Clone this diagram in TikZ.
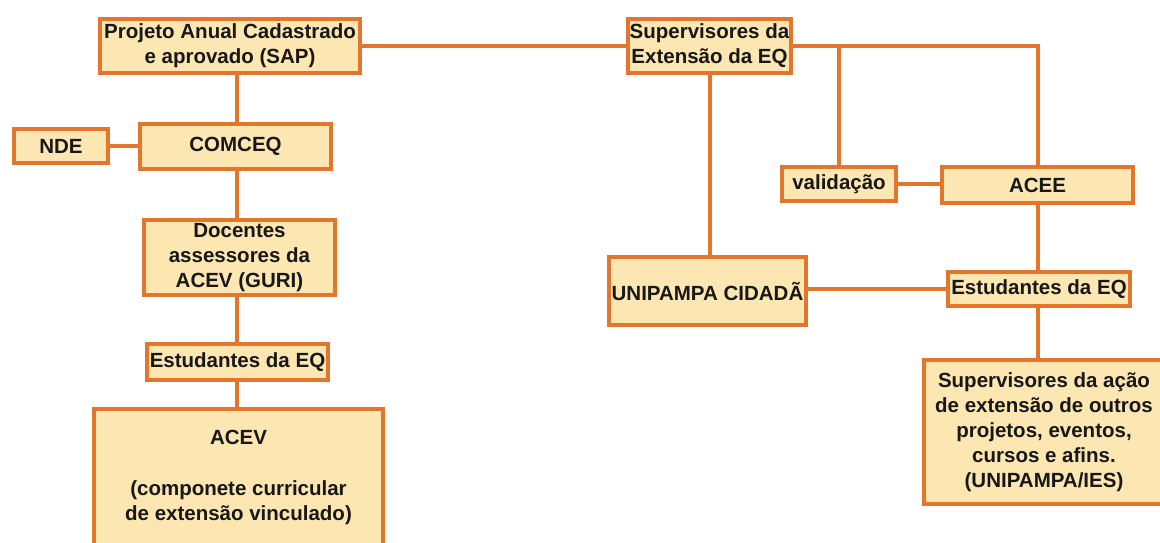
\documentclass[tikz,border=0pt]{standalone}
\usepackage{fontspec}
\setmainfont{Liberation Sans}
\definecolor{bord}{RGB}{226,118,45}
\definecolor{fillc}{RGB}{252,230,178}
\definecolor{txt}{RGB}{24,24,24}
\begin{document}
\begin{tikzpicture}[x=1pt,y=-1pt,
  box/.style={draw=bord, fill=fillc, line width=4pt, inner sep=0pt, text=txt,
    font=\bfseries\fontsize{20.5}{25}\selectfont, align=center},
  link/.style={draw=bord, line width=4pt}]
\useasboundingbox (0,0) rectangle (1160,543);
\fill[white] (0,0) rectangle (1160,543);
\clip (0,0) rectangle (1160,543);
\coordinate (colL) at (237,0);
\coordinate (colR) at (1038,0);
% nodes
\node[box, minimum width=260pt, minimum height=54pt] (proj) at (230,46) {Projeto Anual Cadastrado\\e aprovado (SAP)};
\node[box, minimum width=163pt, minimum height=54pt] (sup) at (709.5,46) {Supervisores da\\Extensão da EQ};
\node[box, minimum width=94pt, minimum height=34pt] (nde) at (61,146) {NDE};
\node[box, minimum width=191pt, minimum height=45pt] (comceq) at (235.5,146.5) {COMCEQ};
\node[box, minimum width=114pt, minimum height=34pt] (valid) at (839,184) {validação};
\node[box, minimum width=191pt, minimum height=36pt] (acee) at (1037.5,185) {ACEE};
\node[box, minimum width=191pt, minimum height=75pt] (doc) at (239.5,257.5) {Docentes\\assessores da\\ACEV (GURI)};
\node[box, minimum width=197pt, minimum height=68pt] (unic) at (707.5,291) {UNIPAMPA CIDADÃ};
\node[box, minimum width=182pt, minimum height=34pt] (estR) at (1039,289) {Estudantes da EQ};
\node[box, minimum width=181pt, minimum height=36pt] (estL) at (237.5,362) {Estudantes da EQ};
\node[box, minimum width=289pt, minimum height=137pt] (acev) at (238.5,477.5) {ACEV\\[26pt](componete curricular\\de extensão vinculado)};
\node[box, minimum width=240pt, minimum height=144pt] (supacao) at (1044,432) {Supervisores da ação\\de extensão de outros\\projetos, eventos,\\cursos e afins.\\(UNIPAMPA/IES)};
% connectors
\draw[link] (proj.east) -- (sup.west);
\draw[link] (sup.east) -- (sup.east -| colR) -- (acee.north -| colR);
\draw[link] (sup.east -| valid.north) -- (valid.north);
\draw[link] (sup.south) -- (sup.south |- unic.north);
\draw[link] (valid.east) -- (valid.east -| acee.west);
\draw[link] (acee.south -| colR) -- (estR.north -| colR);
\draw[link] (unic.east |- estR.west) -- (estR.west);
\draw[link] (estR.south -| colR) -- (supacao.north -| colR);
\draw[link] (proj.south -| colL) -- (comceq.north -| colL);
\draw[link] (nde.east) -- (nde.east -| comceq.west);
\draw[link] (comceq.south -| colL) -- (doc.north -| colL);
\draw[link] (doc.south -| colL) -- (estL.north -| colL);
\draw[link] (estL.south -| colL) -- (acev.north -| colL);
\end{tikzpicture}
\end{document}
